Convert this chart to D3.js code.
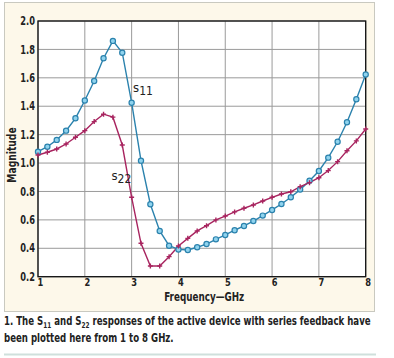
<!DOCTYPE html>
<html><head><meta charset="utf-8">
<script src="https://cdn.jsdelivr.net/npm/d3@7"></script>
<style>
body{margin:0;background:#fff;}
svg{display:block;}
text{font-family:"DejaVu Sans Condensed","Liberation Sans Narrow",sans-serif;}
</style></head>
<body><svg id="c" width="394" height="358"></svg>
<script>
const freqs = [1,1.2,1.4,1.6,1.8,2,2.2,2.4,2.6,2.8,3,3.2,3.4,3.6,3.8,4,4.2,4.4,4.6,4.8,5,5.2,5.4,5.6,5.8,6,6.2,6.4,6.6,6.8,7,7.2,7.4,7.6,7.8,8];
const s11 = [1.08,1.115,1.163,1.228,1.315,1.44,1.578,1.738,1.86,1.777,1.425,1.017,0.71,0.522,0.418,0.392,0.388,0.407,0.43,0.463,0.494,0.527,0.557,0.592,0.63,0.67,0.712,0.759,0.813,0.876,0.944,1.038,1.15,1.287,1.449,1.623];
const s22 = [1.057,1.076,1.099,1.134,1.182,1.228,1.292,1.344,1.323,1.127,0.759,0.435,0.275,0.275,0.341,0.416,0.47,0.522,0.559,0.6,0.627,0.656,0.682,0.705,0.733,0.759,0.782,0.798,0.834,0.862,0.897,0.947,1.01,1.087,1.156,1.24];
const xTicks = [1,2,3,4,5,6,7,8];
const yTicks = [0.2,0.4,0.6,0.8,1.0,1.2,1.4,1.6,1.8,2.0];

const svg = d3.select("#c");
function condense(sel, k){
  sel.each(function(){
    const w=this.getComputedTextLength();
    d3.select(this).attr("textLength",w*k).attr("lengthAdjust","spacingAndGlyphs");
  });
}
svg.append("rect").attr("x",4.5).attr("y",2.5).attr("width",370).attr("height",309)
  .attr("fill","#fdf8ea").attr("stroke","#c9c9c0").attr("stroke-width",1);

const L=38, R=365.7, T=21, B=276.7;
svg.append("rect").attr("x",L).attr("y",T).attr("width",R-L).attr("height",B-T).attr("fill","#fff");
const x = d3.scaleLinear().domain([1,8]).range([L,R]);
const y = d3.scaleLinear().domain([0.2,2.0]).range([B,T]);

const g = svg.append("g");
g.selectAll(".vg").data(xTicks).join("line")
  .attr("x1",d=>x(d)).attr("x2",d=>x(d)).attr("y1",T).attr("y2",B)
  .attr("stroke","#9a9a9a").attr("stroke-width",1);
g.selectAll(".hg").data(yTicks).join("line")
  .attr("y1",d=>y(d)).attr("y2",d=>y(d)).attr("x1",L).attr("x2",R)
  .attr("stroke","#9a9a9a").attr("stroke-width",1);

const xAxis = d3.axisBottom(x).tickValues(xTicks).tickFormat(d3.format("d")).tickSize(0).tickPadding(1);
const yAxis = d3.axisLeft(y).tickValues(yTicks).tickFormat(d3.format(".1f")).tickSize(0).tickPadding(3);
const ax = svg.append("g").attr("transform",`translate(0,${B})`).call(xAxis);
const ay = svg.append("g").attr("transform",`translate(${L},0)`).call(yAxis);
[ax,ay].forEach(a=>{a.select(".domain").remove();
  a.selectAll("text").attr("font-size",11.5).attr("font-weight","bold").attr("fill","#222")
   .style("font-family",'"DejaVu Sans Condensed",sans-serif');
  condense(a.selectAll("text"),0.8);});
ax.selectAll("text").attr("dx",2).attr("font-size",11);

svg.append("rect").attr("x",L).attr("y",T).attr("width",R-L).attr("height",B-T)
  .attr("fill","none").attr("stroke","#111").attr("stroke-width",1.3);

const line = d3.line().x((d,i)=>x(freqs[i])).y(d=>y(d));
const blue="#2b82ad", mag="#a8245f";
svg.append("path").datum(s11).attr("d",line).attr("fill","none").attr("stroke",blue).attr("stroke-width",1.4);
svg.append("path").datum(s22).attr("d",line).attr("fill","none").attr("stroke",mag).attr("stroke-width",1.4);

svg.selectAll(".m11").data(s11).join("circle")
  .attr("cx",(d,i)=>x(freqs[i])).attr("cy",d=>y(d)).attr("r",2.6)
  .attr("fill","#8fd3ee").attr("stroke",blue).attr("stroke-width",1.2);
svg.selectAll(".m22").data(s22).join("path")
  .attr("transform",(d,i)=>`translate(${x(freqs[i])},${y(d)})`)
  .attr("d","M-2.5,0H2.5M0,-2.5V2.5").attr("stroke",mag).attr("stroke-width",1.4);

function sLabel(px,py,sub){
  const t=svg.append("text").attr("x",px).attr("y",py).attr("font-size",13).attr("fill","#222");
  t.append("tspan").text("s");
  t.append("tspan").attr("dy",3).attr("font-size",12).text(sub);
}
sLabel(x(3.03),y(1.5),"11");
sLabel(x(2.57),y(0.88),"22");

const xl = svg.append("text").attr("x",x(4.55)).attr("y",301).attr("text-anchor","middle")
  .attr("font-size",11.5).attr("font-weight","bold").attr("fill","#222").text("Frequency\u2014GHz");
condense(xl,0.85);
const yl = svg.append("text").attr("transform",`translate(16,155) rotate(-90)`).attr("text-anchor","middle")
  .attr("font-size",12).attr("font-weight","bold").attr("fill","#222").text("Magnitude");
condense(yl,0.85);

// caption
const cg = svg.append("g");
const c1 = cg.append("text").attr("x",0).attr("y",0).attr("font-size",12).attr("font-weight","bold").attr("fill","#222");
[["1. The S"],["11","sub"],[" and S","up"],["22","sub"],[" responses of the active device with series feedback have","up"]]
  .forEach(p=>{const s=c1.append("tspan").text(p[0]);
    if(p[1]==="sub") s.attr("dy",2.5).attr("font-size",8); else if(p[1]==="up") s.attr("dy",-2.5);});
const w1 = c1.node().getComputedTextLength();
const kc = 367 / w1;
c1.attr("transform",`translate(4,325) scale(${kc},1)`);
cg.append("text").attr("font-size",12).attr("font-weight","bold").attr("fill","#222")
  .text("been plotted here from 1 to 8 GHz.")
  .attr("transform",`translate(4,342) scale(${kc},1)`);
svg.append("line").attr("x1",4).attr("x2",376).attr("y1",354.5).attr("y2",354.5)
  .attr("stroke","#cfe0dc").attr("stroke-width",2);
</script></body></html>
